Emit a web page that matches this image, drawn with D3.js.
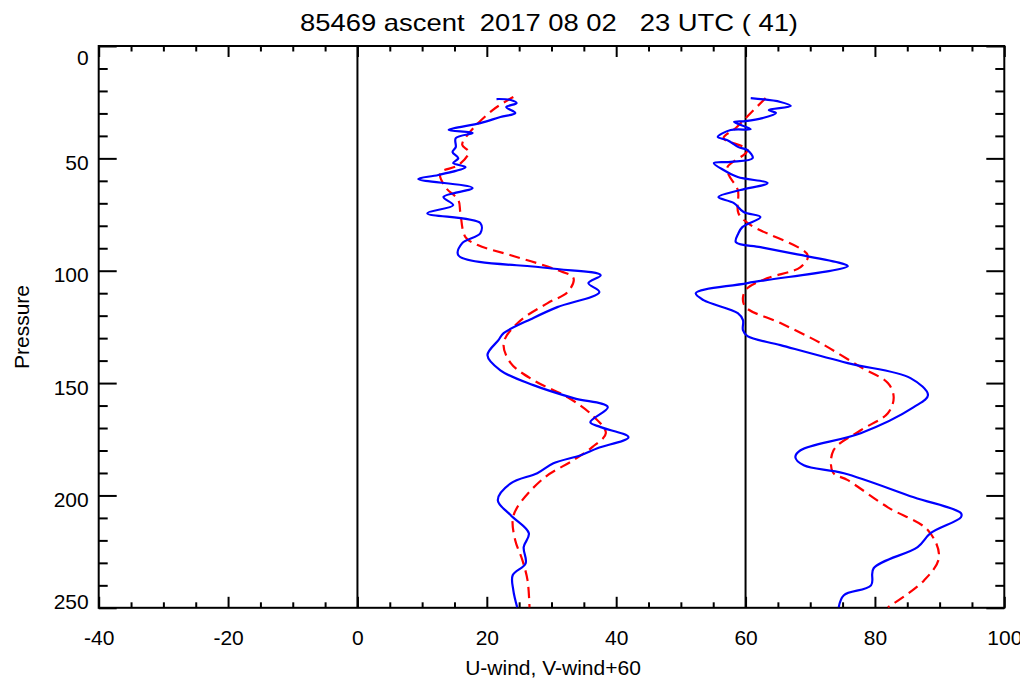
<!DOCTYPE html>
<html>
<head>
<meta charset="utf-8">
<script src="https://cdn.jsdelivr.net/npm/d3@7"></script>
<style>
  body { margin: 0; background: #fff; }
  text { font-family: "Liberation Sans", Arial, sans-serif; fill: #000; }
</style>
</head>
<body>
<div id="chart"></div>
<script>
// Data: pressure levels and winds
var uObsP = [23.6, 24.0, 25.4, 27.2, 29.8, 31.6, 34.3, 37.4, 38.7, 41.0, 45.0, 47.2, 49.9, 52.1, 53.9, 57.4, 59.2, 63.2, 67.2, 70.8, 74.4, 78.8, 83.3, 87.7, 93.1, 98.8, 102, 105.5, 109.5, 116.2, 121, 127.8, 130.9, 137.6, 144.3, 150.9, 156.7, 160.7, 167.4, 169.6, 174.1, 179, 182.1, 185.7, 190.1, 194.6, 202.1, 208.8, 216.8, 223, 230.2, 235.5, 242.2, 249.8];
var uObs  = [21.5, 23.7, 24.6, 23.0, 24.4, 22.1, 19.0, 14.1, 17.8, 15.2, 15.2, 14.7, 15.6, 14.8, 16.7, 12.5, 9.4, 17.8, 13.3, 14.8, 10.8, 19.0, 19.0, 16.2, 15.6, 29.4, 37.6, 35.7, 37.4, 30.9, 27.2, 22.6, 21.8, 20.1, 22.1, 27.2, 33.4, 38.7, 36.0, 37.6, 41.9, 37.1, 34.5, 30.3, 27.8, 23.7, 21.7, 23.7, 26.5, 25.7, 26.0, 24.0, 24.1, 24.7];

var uSmP = [22.7, 28.5, 39.6, 44.0, 47.2, 53.0, 56.5, 62.8, 68.6, 73.9, 85.0, 88.6, 93.1, 99.7, 103.3, 109.5, 114.4, 122.9, 132.2, 141.1, 148.7, 156.3, 164.3, 172.3, 178.5, 184.3, 192.3, 205.3, 211, 220, 228.8, 237.8, 249.8];
var uSm  = [24.1, 20.9, 17.0, 16.2, 17.2, 15.6, 12.8, 13.6, 15.6, 15.9, 16.7, 18.6, 23.7, 30.9, 33.4, 32.5, 29.4, 24.9, 22.6, 23.7, 27.2, 32.5, 36.3, 38.4, 36.3, 33.4, 28.8, 24.7, 24.0, 24.4, 25.5, 26.3, 26.6];

var vObsP = [23.2, 24.9, 26.7, 28.5, 29.8, 32.1, 33.4, 33.8, 37.0, 37.4, 40.5, 41.9, 45.0, 46.3, 49.9, 51.6, 52.1, 55.2, 58.3, 61.0, 64.1, 67.2, 69.9, 73.9, 76.1, 80.6, 83.3, 87.3, 89.5, 92.2, 96.6, 98, 105.5, 110, 113.1, 118.9, 122, 126.4, 129.1, 133.1, 141.1, 147.8, 155.4, 160.7, 172.3, 179.9, 183, 186.6, 190.1, 200.8, 207.9, 209.7, 216.8, 223, 232.4, 240, 244.4, 249.8];
var vObs  = [0.8, 5.4, 7.0, 3.6, 4.7, 2.6, 0.0, -1.8, 0.8, -2.3, -4.3, -2.8, -1.1, 0.3, 1.1, -2.3, -4.9, -3.4, -1.2, 3.4, -0.8, -4.2, -1.8, -0.3, 2.3, -0.5, -1.1, -1.5, 2.3, 7.0, 14.7, 15.8, 0.3, -7.7, -6.5, -1.2, -0.4, -0.4, 0.3, 5.4, 15.8, 25.5, 28.2, 26.0, 17.8, 8.5, 7.7, 9.0, 15.2, 26.0, 33.3, 33.3, 28.6, 26.6, 19.8, 19.4, 15.2, 14.4];

var vSmP = [23.2, 29.8, 36.5, 41.0, 46.3, 53.9, 57.4, 64.1, 74.4, 79.7, 93.1, 98.4, 103.3, 107.7, 111.8, 116.2, 123.3, 132.2, 142.9, 150, 156.3, 163.4, 171, 179.9, 189.7, 193.2, 205.3, 215.5, 227.5, 237.8, 249.8];
var vSm  = [3.1, 0.8, -1.5, -3.4, 0.3, -2.8, -2.6, -1.2, -1.1, 0.8, 9.6, 8.5, 3.4, 0.3, -0.4, 0.0, 5.4, 11.6, 17.8, 22.0, 22.9, 22.0, 17.8, 13.6, 13.5, 15.8, 22.0, 28.2, 29.9, 27.6, 22.0];

var vOffset = 60;
var xMajor = [-40, -20, 0, 20, 40, 60, 80, 100];
var yMajor = [0, 50, 100, 150, 200, 250];
var refLines = [0, 60];
var title = "85469 ascent  2017 08 02   23 UTC ( 41)";

// Layout (note: "top" is a reserved window property, so use pTop etc.)
var W = 1020, H = 686;
var pLeft = 98.7, pRight = 1004.3, pTop = 46, pBottom = 607.8;

var svg = d3.select("#chart").append("svg")
  .attr("width", W).attr("height", H);

var x = d3.scaleLinear().domain([-40, 100]).range([pLeft, pRight]);
var y = d3.scaleLinear().domain([0, 250]).range([pTop, pBottom]);

var xMinor = d3.range(-40, 100.1, 5).filter(function(d) { return d % 20 !== 0; });
var yMinor = d3.range(0, 250.1, 10).filter(function(d) { return d % 50 !== 0; });
var fmt = function(d) { return String(d); };   // plain hyphen minus like the original

function styleAxis(g) {
  g.select(".domain").remove();
  g.selectAll(".tick line").attr("stroke", "#000").attr("stroke-width", 2);
  g.selectAll("text").style("font-family", "'Liberation Sans', Arial, sans-serif")
    .style("font-size", "21px").attr("fill", "#000");
}

// bottom axis (labels) + minor
svg.append("g").attr("transform", "translate(0," + pBottom + ")")
  .call(d3.axisBottom(x).tickValues(xMajor).tickSizeInner(-11).tickSizeOuter(0).tickPadding(22).tickFormat(fmt))
  .call(styleAxis);
svg.append("g").attr("transform", "translate(0," + pBottom + ")")
  .call(d3.axisBottom(x).tickValues(xMinor).tickSizeInner(-5.5).tickSizeOuter(0).tickFormat(""))
  .call(styleAxis);
// top axis (mirror)
svg.append("g").attr("transform", "translate(0," + pTop + ")")
  .call(d3.axisTop(x).tickValues(xMajor).tickSizeInner(-11).tickSizeOuter(0).tickFormat(""))
  .call(styleAxis);
svg.append("g").attr("transform", "translate(0," + pTop + ")")
  .call(d3.axisTop(x).tickValues(xMinor).tickSizeInner(-5.5).tickSizeOuter(0).tickFormat(""))
  .call(styleAxis);

// left axis (labels) + minor
var yAx = svg.append("g").attr("transform", "translate(" + pLeft + ",0)")
  .call(d3.axisLeft(y).tickValues(yMajor).tickSizeInner(-18).tickSizeOuter(0).tickPadding(10).tickFormat(fmt))
  .call(styleAxis);
yAx.selectAll(".tick text").attr("dy", function(d) {
  if (d === 0) return "18.5px";
  if (d === 250) return "0.5px";
  return "11.2px";
});
svg.append("g").attr("transform", "translate(" + pLeft + ",0)")
  .call(d3.axisLeft(y).tickValues(yMinor).tickSizeInner(-9).tickSizeOuter(0).tickFormat(""))
  .call(styleAxis);
// right axis (mirror)
svg.append("g").attr("transform", "translate(" + pRight + ",0)")
  .call(d3.axisRight(y).tickValues(yMajor).tickSizeInner(-18).tickSizeOuter(0).tickFormat(""))
  .call(styleAxis);
svg.append("g").attr("transform", "translate(" + pRight + ",0)")
  .call(d3.axisRight(y).tickValues(yMinor).tickSizeInner(-9).tickSizeOuter(0).tickFormat(""))
  .call(styleAxis);

// frame
svg.append("rect")
  .attr("x", pLeft).attr("y", pTop)
  .attr("width", pRight - pLeft).attr("height", pBottom - pTop)
  .attr("fill", "none").attr("stroke", "#000").attr("stroke-width", 2);

// reference lines at 0 and 60
svg.selectAll(".ref").data(refLines).enter().append("line")
  .attr("class", "ref")
  .attr("x1", function(d) { return x(d); }).attr("x2", function(d) { return x(d); })
  .attr("y1", pTop).attr("y2", pBottom)
  .attr("stroke", "#000").attr("stroke-width", 2);

// curves
svg.append("clipPath").attr("id", "clip").append("rect")
  .attr("x", pLeft).attr("y", pTop).attr("width", pRight - pLeft).attr("height", pBottom - pTop);

var line = d3.line()
  .curve(d3.curveCatmullRom.alpha(0.5))
  .x(function(d) { return x(d[1]); })
  .y(function(d) { return y(d[0]); });

function pairs(ps, vs, off) {
  return ps.map(function(p, i) { return [p, vs[i] + off]; });
}

var series = [
  { pts: pairs(uSmP, uSm, 0), color: "#ff0000", dash: "11,6" },
  { pts: pairs(vSmP, vSm, vOffset), color: "#ff0000", dash: "11,6" },
  { pts: pairs(uObsP, uObs, 0), color: "#0000ff", dash: null },
  { pts: pairs(vObsP, vObs, vOffset), color: "#0000ff", dash: null }
];

svg.append("g").attr("clip-path", "url(#clip)")
  .selectAll("path").data(series).enter().append("path")
  .attr("d", function(d) { return line(d.pts); })
  .attr("fill", "none")
  .attr("stroke", function(d) { return d.color; })
  .attr("stroke-width", 2.2)
  .attr("stroke-linejoin", "round")
  .attr("stroke-dasharray", function(d) { return d.dash; });

// titles
svg.append("text")
  .attr("x", 549).attr("y", 31)
  .attr("text-anchor", "middle")
  .style("white-space", "pre")
  .style("font-size", "24px")
  .attr("textLength", 498)
  .attr("lengthAdjust", "spacingAndGlyphs")
  .text(title);

svg.append("text")
  .attr("x", 553).attr("y", 675)
  .attr("text-anchor", "middle")
  .style("font-size", "21px")
  .text("U-wind, V-wind+60");

svg.append("text")
  .attr("transform", "translate(29," + 327 + ") rotate(-90)")
  .attr("text-anchor", "middle")
  .style("font-size", "21px")
  .text("Pressure");
</script>
</body>
</html>
